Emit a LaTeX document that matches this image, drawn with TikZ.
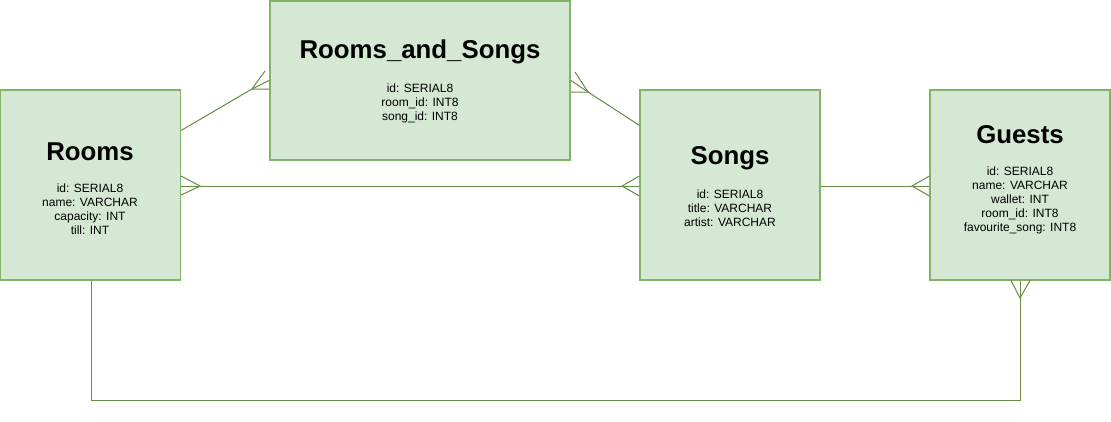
\documentclass[tikz,border=0pt]{standalone}
\usepackage{fontspec}
\setmainfont{Liberation Sans}
\usetikzlibrary{calc}
\definecolor{boxfill}{HTML}{D5E8D4}
\definecolor{boxline}{HTML}{82B366}
\definecolor{edgecol}{HTML}{648C44}
\tikzset{
  box/.style={draw=boxline, fill=boxfill, line width=1.2pt, inner sep=0pt},
  ttl/.style={font=\fontsize{25.8}{30}\selectfont\bfseries, inner sep=0pt, anchor=center},
  fld/.style={font=\fontsize{12}{14}\selectfont, align=center, inner sep=0pt},
  edge/.style={draw=edgecol, line width=1pt}
}
\begin{document}
\begin{tikzpicture}[x=1pt,y=-1pt]
\useasboundingbox (0,0) rectangle (1111,421);
% boxes
\node[box, minimum width=180pt, minimum height=190pt] (rooms) at (90.6,185) {};
\node[box, minimum width=300pt, minimum height=159pt] (ras) at (420,80.4) {};
\node[box, minimum width=180pt, minimum height=190pt] (songs) at (730,185) {};
\node[box, minimum width=180pt, minimum height=190pt] (guests) at (1020,185) {};
% titles
\node[ttl] (rooms-t) at (90,152) {Rooms};
\node[ttl] (ras-t) at (420,52) {Rooms\_and\_Songs};
\node[ttl] (songs-t) at (730,158) {Songs};
\node[ttl] (guests-t) at (1020,135) {Guests};
% fields
\node[fld] (rooms-f) at (90,209) {id: SERIAL8\\name: VARCHAR\\capacity: INT\\till: INT};
\node[fld] (ras-f) at (420,103) {id: SERIAL8\\room\_id: INT8\\song\_id: INT8};
\node[fld] (songs-f) at (730,208) {id: SERIAL8\\title: VARCHAR\\artist: VARCHAR};
\node[fld] (guests-f) at (1020,200) {id: SERIAL8\\name: VARCHAR\\wallet: INT\\room\_id: INT8\\favourite\_song: INT8};
% edge Rooms -> Rooms_and_Songs
\coordinate (c1) at (252,89);
\draw[edge] ($(rooms.north east)+(0,41)$) -- (c1) -- (c1 -| ras.west);
\draw[edge] (c1) -- ($(ras.north west)+(0,80)$);
\draw[edge] (c1) -- (265,71);
% edge Rooms_and_Songs -> Songs
\coordinate (c2) at (588,92);
\draw[edge] ($(songs.north west)+(0,36)$) -- (c2) -- (c2 -| ras.east);
\draw[edge] (c2) -- ($(ras.north east)+(0,80)$);
\draw[edge] (c2) -- (575,72);
% edge Rooms <-> Songs
\coordinate (c3) at (200,186);
\coordinate (c4) at (622,186);
\draw[edge] (c3 -| rooms.east) -- (c4 -| songs.west);
\draw[edge] ($(rooms.east)+(0,-9)$) -- (c3) -- ($(rooms.east)+(0,10)$);
\draw[edge] ($(songs.west)+(0,-9)$) -- (c4) -- ($(songs.west)+(0,11)$);
% edge Songs -> Guests
\coordinate (c5) at (912,186);
\draw[edge] (c5 -| songs.east) -- (c5 -| guests.west);
\draw[edge] ($(guests.west)+(0,-9)$) -- (c5) -- ($(guests.west)+(0,11)$);
% edge Rooms -> Guests (bottom)
\coordinate (c6) at (1020,298);
\coordinate (b1) at (91,400);
\coordinate (b2) at (1020,400);
\draw[edge] (b1 |- rooms.south) -- (b1) -- (b2) -- (guests.south);
\draw[edge] ($(guests.south)+(-9,0)$) -- (c6) -- ($(guests.south)+(10,0)$);
\end{tikzpicture}
\end{document}
